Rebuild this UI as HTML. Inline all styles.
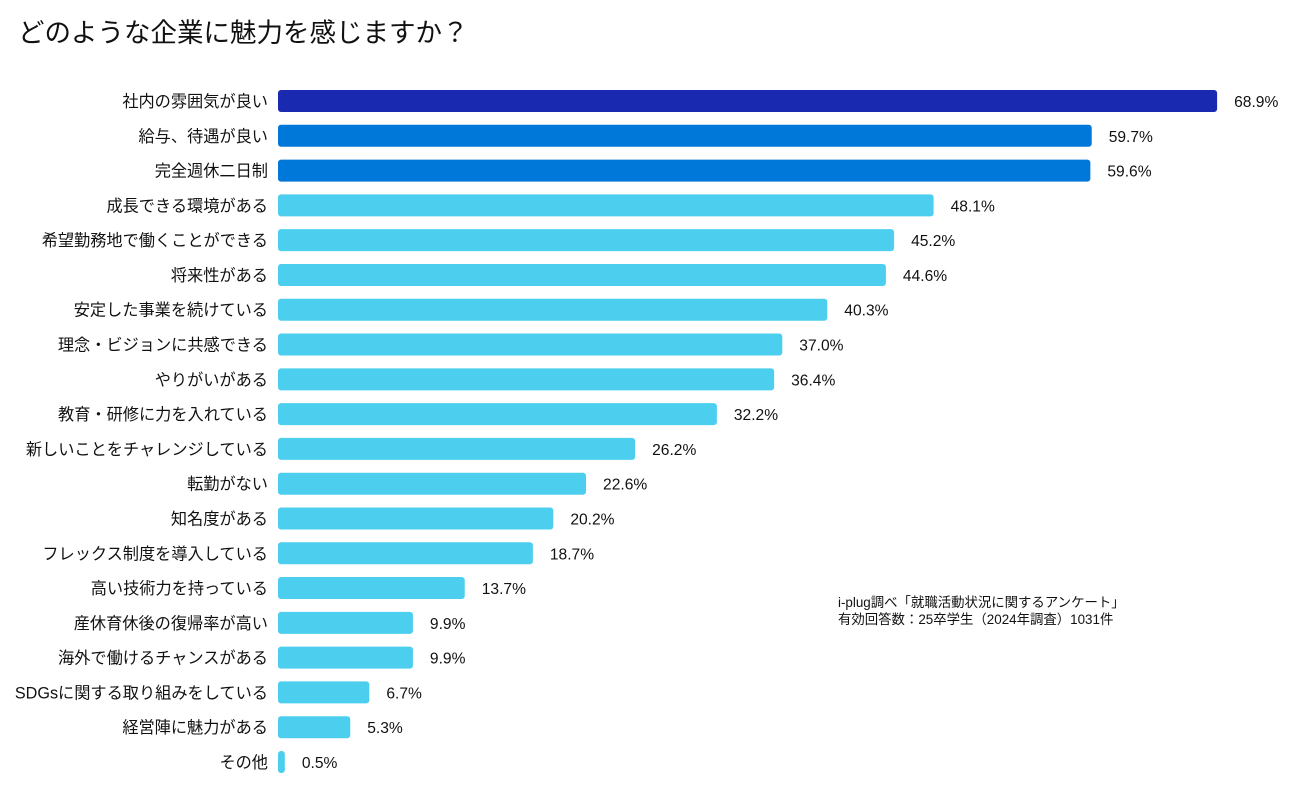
<!DOCTYPE html>
<html><head><meta charset="utf-8">
<style>
body{margin:0;background:#fff;width:1308px;height:792px;overflow:hidden;font-family:"Liberation Sans","Noto Sans CJK JP",sans-serif;}
</style></head>
<body>
<svg id="chart" width="1308" height="792" xmlns="http://www.w3.org/2000/svg">
<text x="18" y="42" font-size="26.5" fill="#111" font-family="Liberation Sans, Noto Sans CJK JP, sans-serif">どのような企業に魅力を感じますか？</text>
<g id="bars"></g>
<text x="838" y="607" font-size="13.4" fill="#111" font-family="Liberation Sans, Noto Sans CJK JP, sans-serif">i-plug調べ「就職活動状況に関するアンケート」</text>
<text x="838" y="624" font-size="13.4" fill="#111" font-family="Liberation Sans, Noto Sans CJK JP, sans-serif">有効回答数：25卒学生（2024年調査）1031件</text>
</svg>
<script>
const categories=["社内の雰囲気が良い","給与、待遇が良い","完全週休二日制","成長できる環境がある","希望勤務地で働くことができる","将来性がある","安定した事業を続けている","理念・ビジョンに共感できる","やりがいがある","教育・研修に力を入れている","新しいことをチャレンジしている","転勤がない","知名度がある","フレックス制度を導入している","高い技術力を持っている","産休育休後の復帰率が高い","海外で働けるチャンスがある","SDGsに関する取り組みをしている","経営陣に魅力がある","その他"];
const values=[68.9,59.7,59.6,48.1,45.2,44.6,40.3,37.0,36.4,32.2,26.2,22.6,20.2,18.7,13.7,9.9,9.9,6.7,5.3,0.5];
const valueLabels=["68.9%","59.7%","59.6%","48.1%","45.2%","44.6%","40.3%","37.0%","36.4%","32.2%","26.2%","22.6%","20.2%","18.7%","13.7%","9.9%","9.9%","6.7%","5.3%","0.5%"];
const NS="http://www.w3.org/2000/svg";
const x0=278, pxPer=13.63, y0=101, step=34.79, bh=22;
const xScale=v=>v*pxPer;
const yScale=i=>y0+i*step;
const colorFor=i=>i===0?"#1a2ab0":(i<3?"#0078d9":"#4ccfee");
const g=document.getElementById("bars");
categories.forEach((c,i)=>{
  const cy=yScale(i), w=Math.max(xScale(values[i]),6);
  const r=document.createElementNS(NS,"rect");
  r.setAttribute("x",x0);r.setAttribute("y",cy-bh/2);r.setAttribute("width",w);r.setAttribute("height",bh);r.setAttribute("rx",3);r.setAttribute("fill",colorFor(i));
  
  
  g.appendChild(r);
  const t=document.createElementNS(NS,"text");
  t.setAttribute("x",268);t.setAttribute("y",cy+6);t.setAttribute("text-anchor","end");t.setAttribute("font-size","16.2");t.setAttribute("fill","#111");
  t.textContent=c;
  
  
  g.appendChild(t);
  const v=document.createElementNS(NS,"text");
  v.setAttribute("x",x0+w+17);v.setAttribute("y",cy+6);v.setAttribute("font-size","15.6");v.setAttribute("fill","#111");
  v.textContent=valueLabels[i];
  
  
  g.appendChild(v);
});
</script>
</body></html>
